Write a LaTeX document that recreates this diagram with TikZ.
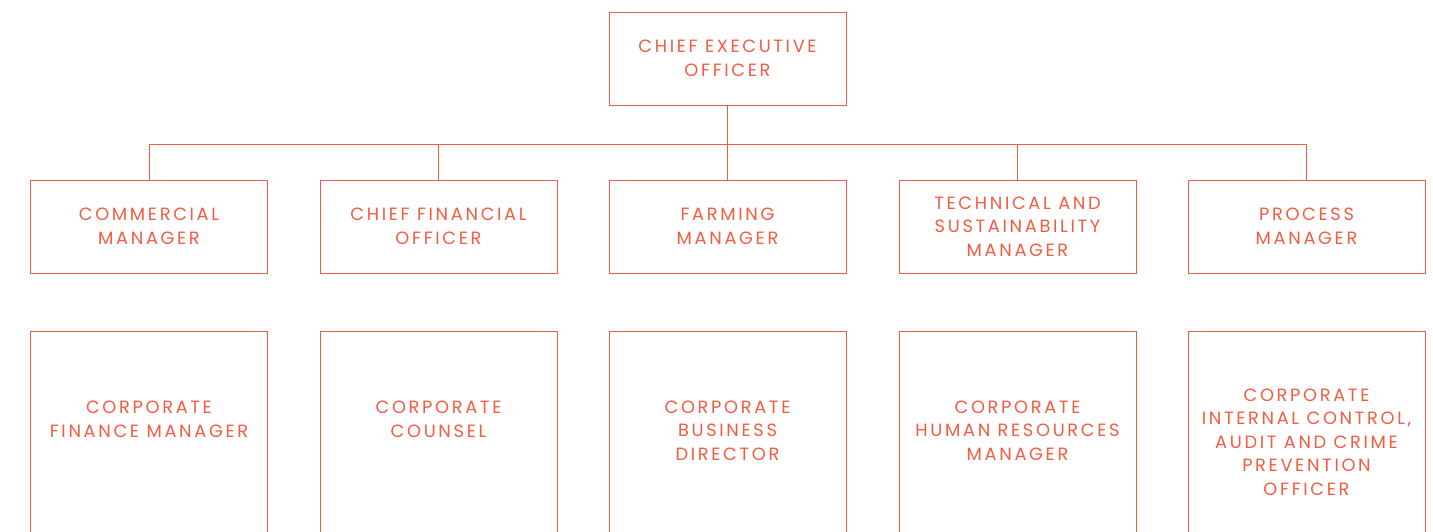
\documentclass[tikz,border=0pt]{standalone}
\usepackage{fontspec}
\newfontfamily\orgfont[LetterSpace=15]{Poppins}
\definecolor{orgred}{RGB}{242,92,66}
\begin{document}
\begin{tikzpicture}[x=1pt,y=-1pt,
  orgbox/.style={draw=orgred,line width=0.9pt,minimum width=237pt,minimum height=93pt,inner sep=0pt},
  tallbox/.style={draw=orgred,line width=0.9pt,minimum width=237pt,minimum height=260pt,inner sep=0pt,anchor=north},
  orgtext/.style={text=orgred,font=\orgfont\fontsize{17.8}{23.6}\selectfont,align=center,inner sep=0pt},
  link/.style={draw=orgred,line width=0.9pt}]
\useasboundingbox (0,0) rectangle (1433,532);
\clip (0,0) rectangle (1433,532);
% top of the chart
\node[orgbox,orgtext] (ceo) at (727.5,58.5) {CHIEF EXECUTIVE\\OFFICER};
% managers
\node[orgbox,orgtext] (m1) at (149,226.5) {COMMERCIAL\\MANAGER};
\node[orgbox,orgtext] (m2) at (438.5,226.5) {CHIEF FINANCIAL\\OFFICER};
\node[orgbox,orgtext] (m3) at (727.5,226.5) {FARMING\\MANAGER};
\node[orgbox,orgtext] (m4) at (1017.5,226.5) {TECHNICAL AND\\SUSTAINABILITY\\MANAGER};
\node[orgbox,orgtext] (m5) at (1306.5,226.5) {PROCESS\\MANAGER};
% corporate functions
\node[tallbox] (c1) at (149,331) {};
\node[tallbox] (c2) at (438.5,331) {};
\node[tallbox] (c3) at (727.5,331) {};
\node[tallbox] (c4) at (1017.5,331) {};
\node[tallbox] (c5) at (1306.5,331) {};
\node[orgtext] (t1) at (149,419) {CORPORATE\\FINANCE MANAGER};
\node[orgtext] (t2) at (438.5,419) {CORPORATE\\COUNSEL};
\node[orgtext] (t3) at (727.5,430.5) {CORPORATE\\BUSINESS\\DIRECTOR};
\node[orgtext] (t4) at (1017.5,430.5) {CORPORATE\\HUMAN RESOURCES\\MANAGER};
\node[orgtext] (t5) at (1306.5,442) {CORPORATE\\INTERNAL CONTROL,\\AUDIT AND CRIME\\PREVENTION\\OFFICER};
% reporting lines
\coordinate (bus) at (0,144);
\draw[link] (ceo.south) -- (ceo.south |- bus);
\draw[link] (m1.north) -- (m1.north |- bus) -| (m5.north);
\draw[link] (m2.north) -- (m2.north |- bus);
\draw[link] (m3.north) -- (m3.north |- bus);
\draw[link] (m4.north) -- (m4.north |- bus);
\end{tikzpicture}
\end{document}
